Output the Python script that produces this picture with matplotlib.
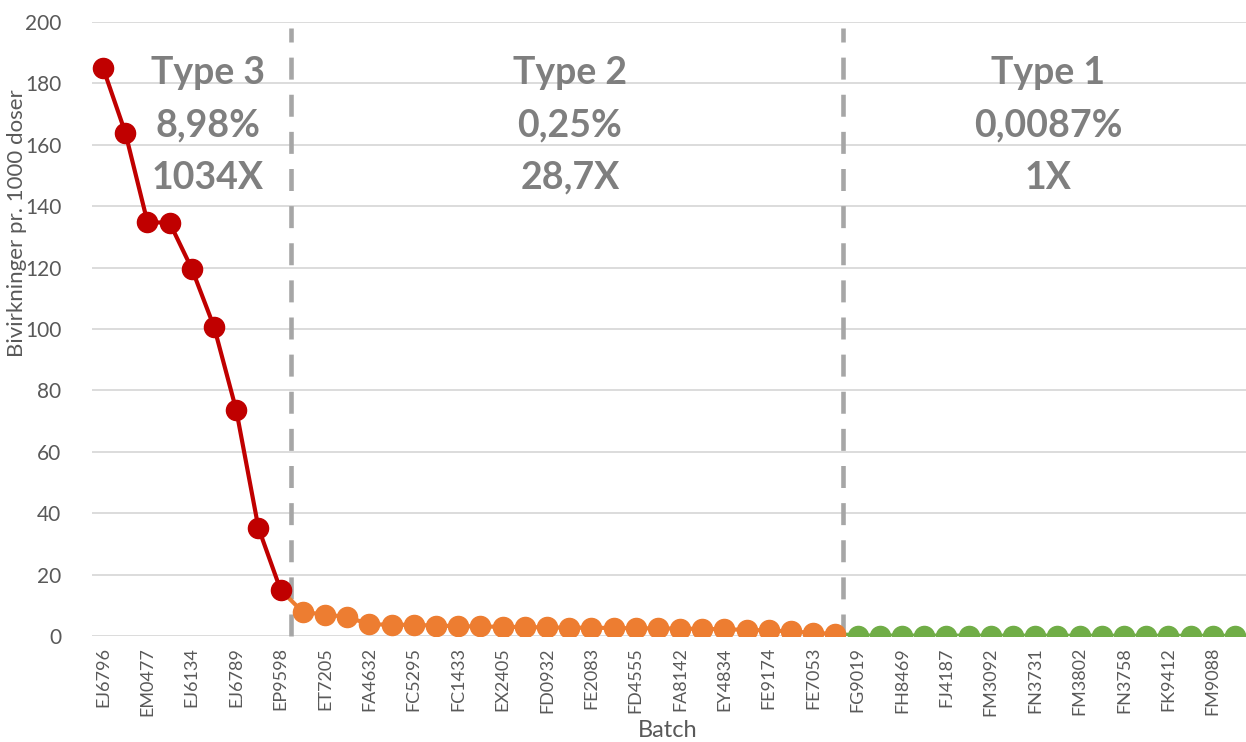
import matplotlib
matplotlib.use("Agg")
import matplotlib.pyplot as plt
import numpy as np

# ---- data ----
tick_labels = ["EJ6796", "EM0477", "EJ6134", "EJ6789", "EP9598", "ET7205", "FA4632",
               "FC5295", "FC1433", "EX2405", "FD0932", "FE2083", "FD4555", "FA8142",
               "EY4834", "FE9174", "FE7053", "FG9019", "FH8469", "FJ4187", "FM3092",
               "FN3731", "FM3802", "FN3758", "FK9412", "FM9088"]
type3_values = [185, 164, 134.8, 134.6, 119.6, 100.7, 73.6, 35.2, 15.0]
type2_values = [7.8, 7.0, 6.2, 3.8, 3.7, 3.6, 3.4, 3.2, 3.1, 3.0, 2.9, 2.8, 2.7,
                2.7, 2.6, 2.5, 2.5, 2.4, 2.3, 2.2, 2.0, 1.8, 1.5, 1.0, 0.7]
type1_values = [0.15, 0.14, 0.13, 0.12, 0.12, 0.11, 0.1, 0.1, 0.1, 0.09, 0.09,
                0.08, 0.08, 0.07, 0.07, 0.06, 0.06, 0.05]
group_texts = [("Type 3", "8,98%", "1034X"),
               ("Type 2", "0,25%", "28,7X"),
               ("Type 1", "0,0087%", "1X")]

red = "#C00000"
orange = "#ED7D31"
green = "#70AD47"
txt_gray = "#595959"

fig = plt.figure(figsize=(12.46, 7.42), dpi=100)
L = 92
W = 1246 - L
ax = fig.add_axes([L / 1246, 1 - 636 / 742, W / 1246, (636 - 22) / 742])

n3, n2, n1 = len(type3_values), len(type2_values), len(type1_values)
x3 = np.arange(n3)
x2 = np.arange(n3, n3 + n2)
x1 = np.arange(n3 + n2, n3 + n2 + n1)
N = n3 + n2 + n1

ms = 14.5
lw = 3
# connecting segments
ax.plot([x3[-1], x2[0]], [type3_values[-1], type2_values[0]], color=orange, lw=lw, zorder=3)
ax.plot([x2[-1], x1[0]], [type2_values[-1], type1_values[0]], color=green, lw=lw, zorder=3)
ax.plot(x1, type1_values, color=green, lw=lw, marker="o", ms=ms, zorder=4)
ax.plot(x2, type2_values, color=orange, lw=lw, marker="o", ms=ms, zorder=5)
ax.plot(x3, type3_values, color=red, lw=lw, marker="o", ms=ms, zorder=6)

# dividers
for xd in [n3 - 0.55, n3 + n2 - 0.65]:
    ax.plot([xd, xd], [0, 198], color="#A6A6A6", lw=3.3, dashes=(4.8, 3.3),
            zorder=2, clip_on=False)

ax.set_xlim(-0.5, N - 0.5)
ax.set_ylim(0, 200)
ax.set_yticks(np.arange(0, 201, 20))
ax.set_xticks(np.arange(0, N, 2)[:len(tick_labels)])
ax.set_xticklabels(tick_labels, rotation=90, fontsize=13, color=txt_gray, family="Lato")
for lab in ax.get_yticklabels():
    lab.set_family("Lato")
ax.tick_params(axis="y", labelsize=15, colors=txt_gray, length=0, pad=22)
ax.tick_params(axis="x", length=0, pad=8)
ax.grid(axis="y", color="#D9D9D9", lw=1.3, zorder=0)
for s in ax.spines.values():
    s.set_visible(False)

ax.set_ylabel("Bivirkninger pr. 1000 doser", fontsize=16, color=txt_gray, family="Lato")
ax.yaxis.set_label_coords((27 - L) / W, (636 - 223) / 614)
ax.set_xlabel("Batch", fontsize=17, color=txt_gray, family="Lato")
ax.xaxis.set_label_coords((668 - L) / W, (636 - 720) / 614)

centers = [208, 570, 1048]
for cx, lines in zip(centers, group_texts):
    xd = ax.transData.inverted().transform((cx, 0))[0]
    for j, t in enumerate(lines):
        ax.text(xd, 183.5 - j * 17.1, t, ha="center", va="center", fontsize=27,
                fontweight="bold", color="#7F7F7F", family="Lato", zorder=7)

fig.savefig("out.png", dpi=100)
